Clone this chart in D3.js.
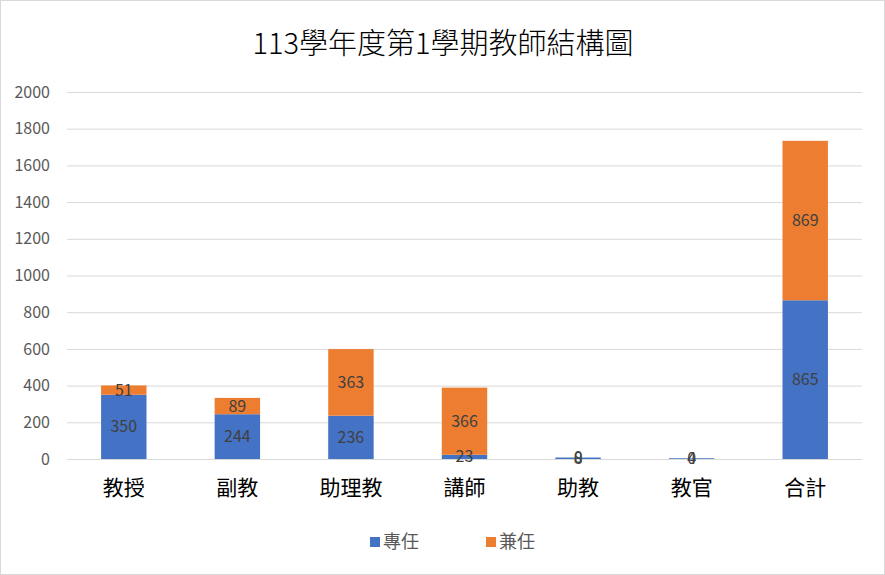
<!DOCTYPE html>
<html><head><meta charset="utf-8">
<script src="https://cdn.jsdelivr.net/npm/d3@7"></script>
<style>body{margin:0;background:#fff}svg{display:block;font-family:"Noto Sans CJK TC","Noto Sans",sans-serif}</style>
</head><body>
<svg id="c" width="885" height="575"></svg>
<script>
const categories = ["教授","副教","助理教","講師","助教","教官","合計"];
const fullTime = [350,244,236,23,8,4,865];
const partTime = [51,89,363,366,0,0,869];
const seriesNames = ["專任","兼任"];
const colors = ["#4472C4","#ED7D31"];
const yTicks = [0,200,400,600,800,1000,1200,1400,1600,1800,2000];
const title = "113學年度第1學期教師結構圖";

const svg = d3.select("#c");
svg.append("rect").attr("x",0.5).attr("y",0.5).attr("width",884).attr("height",574)
  .attr("fill","#fff").attr("stroke","#d9d9d9");

const x = d3.scaleBand().domain(categories).range([67,862]).paddingInner(0.6).paddingOuter(0.3);
const y = d3.scaleLinear().domain([0,2000]).range([459,92]);

svg.append("text").attr("x",443).attr("y",54).attr("text-anchor","middle")
  .attr("font-size",29).attr("font-weight",300).attr("fill","#000").text(title);

const grid = svg.append("g");
grid.selectAll("line").data(yTicks).join("line")
  .attr("x1",67).attr("x2",862).attr("y1",d=>y(d)+0.5).attr("y2",d=>y(d)+0.5)
  .attr("stroke","#d9d9d9").attr("stroke-width",1);

const yAxis = svg.append("g").attr("transform","translate(67,0)")
  .call(d3.axisLeft(y).tickValues(yTicks).tickFormat(d3.format("d")).tickSize(0).tickPadding(17));
yAxis.select(".domain").remove();
yAxis.selectAll("text").attr("font-size",16).attr("fill","#595959").attr("font-family","'Noto Sans CJK TC',sans-serif");

const data = categories.map((c,i)=>({c, a:fullTime[i], b:partTime[i]}));
const bars = svg.append("g");
data.forEach(d=>{
  bars.append("rect").attr("x",x(d.c)).attr("width",x.bandwidth())
    .attr("y",y(d.a)).attr("height",y(0)-y(d.a)).attr("fill",colors[0]);
  bars.append("rect").attr("x",x(d.c)).attr("width",x.bandwidth())
    .attr("y",y(d.a+d.b)).attr("height",y(d.a)-y(d.a+d.b)).attr("fill",colors[1]);
});
const labels = svg.append("g").attr("font-size",16).attr("fill","#404040").attr("text-anchor","middle");
data.forEach(d=>{
  const cx = x(d.c)+x.bandwidth()/2;
  labels.append("text").attr("x",cx).attr("y",(y(0)+y(d.a))/2).attr("dy","0.35em").text(d.a);
  labels.append("text").attr("x",cx).attr("y",(y(d.a)+y(d.a+d.b))/2).attr("dy","0.35em").text(d.b);
});

const xAxis = svg.append("g").attr("transform","translate(0,459)")
  .call(d3.axisBottom(x).tickSize(0).tickPadding(21));
xAxis.select(".domain").remove();
xAxis.selectAll("text").attr("font-size",21).attr("fill","#000").attr("font-family","'Noto Sans CJK TC',sans-serif");

const leg = svg.append("g").attr("font-size",18).attr("fill","#595959");
const legX = [370,486];
seriesNames.forEach((n,i)=>{
  leg.append("rect").attr("x",legX[i]).attr("y",537).attr("width",10).attr("height",10).attr("fill",colors[i]);
  leg.append("text").attr("x",legX[i]+13).attr("y",542).attr("dy","0.35em").text(n);
});
</script>
</body></html>
